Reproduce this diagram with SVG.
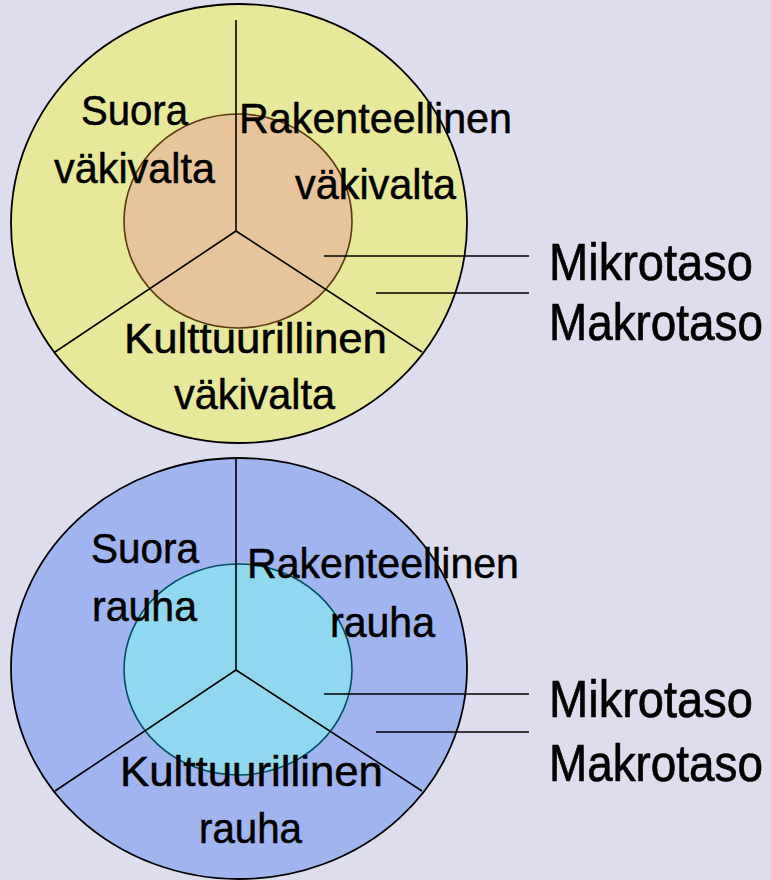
<svg xmlns="http://www.w3.org/2000/svg" width="771" height="880" viewBox="0 0 771 880">
<style>
.lbl{font-family:"Liberation Sans",Arial,sans-serif;font-size:42px;fill:#000;stroke:#000;stroke-width:0.5}
.leg{font-family:"Liberation Sans",Arial,sans-serif;font-size:46px;fill:#000;stroke:#000;stroke-width:0.6}
.ln{stroke:#000;stroke-width:1.6;fill:none}
.out{stroke:#000;stroke-width:1.8}
</style>
<rect width="771" height="880" fill="#DDDDED"/>
<g id="violence">
  <ellipse class="out" cx="239" cy="223.5" rx="228" ry="219.5" fill="#E8E89A"/>
  <ellipse cx="238" cy="221" rx="114" ry="107" fill="#E8C49A" stroke="#5A3A10" stroke-width="1.6"/>
</g>
<g id="peace">
  <ellipse class="out" cx="239" cy="668.5" rx="228" ry="210.5" fill="#A0B4F0"/>
  <ellipse cx="238" cy="669.5" rx="114" ry="105.5" fill="#90D8F0" stroke="#005060" stroke-width="1.6"/>
</g>
<g id="connectors">
  <path class="ln" d="M236 20V231L55 352M236 231L422 352"/>
  <path class="ln" d="M324 256H529M376 293H529"/>
  <path class="ln" d="M236 459V670L55 791M236 670L422 791"/>
  <path class="ln" d="M324 694H529M376 732H529"/>
</g>
<g id="labels-violence">
  <text class="lbl" x="81" y="125" textLength="107" lengthAdjust="spacingAndGlyphs">Suora</text>
  <text class="lbl" x="54" y="183" textLength="161" lengthAdjust="spacingAndGlyphs">väkivalta</text>
  <text class="lbl" x="239" y="133" textLength="273" lengthAdjust="spacingAndGlyphs">Rakenteellinen</text>
  <text class="lbl" x="295" y="199" textLength="161" lengthAdjust="spacingAndGlyphs">väkivalta</text>
  <text class="lbl" x="124" y="353" textLength="263" lengthAdjust="spacingAndGlyphs">Kulttuurillinen</text>
  <text class="lbl" x="174" y="409" textLength="161" lengthAdjust="spacingAndGlyphs">väkivalta</text>
  <text class="leg" transform="translate(549 280) scale(1 1.11)" textLength="204" lengthAdjust="spacingAndGlyphs">Mikrotaso</text>
  <text class="leg" transform="translate(549 340) scale(1 1.11)" textLength="214" lengthAdjust="spacingAndGlyphs">Makrotaso</text>
</g>
<g id="labels-peace">
  <text class="lbl" x="91" y="563" textLength="108" lengthAdjust="spacingAndGlyphs">Suora</text>
  <text class="lbl" x="92" y="621" textLength="105" lengthAdjust="spacingAndGlyphs">rauha</text>
  <text class="lbl" x="247" y="578" textLength="272" lengthAdjust="spacingAndGlyphs">Rakenteellinen</text>
  <text class="lbl" x="330" y="637" textLength="105" lengthAdjust="spacingAndGlyphs">rauha</text>
  <text class="lbl" x="120" y="786" textLength="263" lengthAdjust="spacingAndGlyphs">Kulttuurillinen</text>
  <text class="lbl" x="199" y="843" textLength="103" lengthAdjust="spacingAndGlyphs">rauha</text>
  <text class="leg" transform="translate(549 717) scale(1 1.11)" textLength="204" lengthAdjust="spacingAndGlyphs">Mikrotaso</text>
  <text class="leg" transform="translate(549 781) scale(1 1.11)" textLength="214" lengthAdjust="spacingAndGlyphs">Makrotaso</text>
</g>
</svg>
